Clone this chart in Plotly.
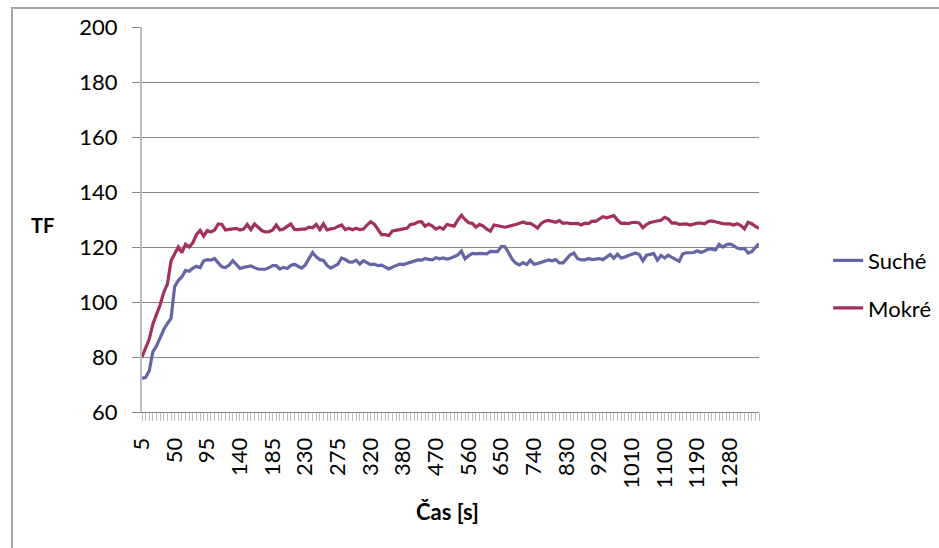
import plotly.graph_objects as go

# Categories: 5..350 step 5, then 360..1360 step 10
cas = [str(v) for v in list(range(5, 351, 5)) + list(range(360, 1361, 10))]

suche = [72.2, 72.6, 75, 82, 84, 87, 90, 92.2, 94, 105.6,
         107.8, 109.2, 111.5, 111.2, 112.3, 113, 112.5, 115, 115.4, 115.2,
         115.8, 114.2, 112.8, 112.5, 113.4, 115, 113.5, 112.2, 112.6, 113,
         113.1, 112.5, 112, 111.9, 111.9, 112.5, 113.2, 113.2, 112, 112.6,
         112.2, 113.3, 113.7, 113, 112.3, 113.5, 115.5, 118, 116.4, 115.4,
         115.1, 113.3, 112.3, 112.9, 113.8, 116, 115.5, 114.6, 114.5, 115.2,
         113.8, 115, 114.2, 113.6, 113.8, 113.2, 113.4, 112.7, 112, 112.7,
         113.1, 113.8, 113.6, 114.1, 114.6, 115.1, 115.3, 115.2, 115.8, 115.5,
         115.3, 116.1, 115.7, 116, 115.6, 115.9, 116.5, 117.1, 118.5, 115.7,
         116.8, 117.7, 117.5, 117.7, 117.6, 117.5, 118.4, 118.4, 118.3, 120.2,
         120.1, 118, 115.5, 114.1, 113.5, 114.3, 113.6, 115.2, 113.7, 114,
         114.5, 115, 115.3, 115, 115.4, 114.2, 114.2, 115.7, 117.2, 117.8,
         115.8, 115.3, 115.3, 115.8, 115.4, 115.6, 115.8, 115.4, 116.5, 117.3,
         115.9, 117.4, 116, 116.3, 116.9, 117.5, 117.8, 117.3, 115, 117,
         117.4, 117.6, 115.2, 116.9, 116, 117, 116.2, 115.4, 114.8, 117.5,
         117.9, 117.9, 118, 118.6, 118, 118.5, 119.2, 119.2, 118.9, 121,
         120, 120.8, 121.1, 120.5, 119.6, 119.3, 119.5, 117.8, 118.3, 119.8,
         121.2]

mokre = [80, 83.5, 86.5, 92, 95.5, 99, 103.5, 106.5, 115, 117.5,
         120, 118, 121, 120, 121.5, 124.5, 126, 124, 126, 125.5,
         126.2, 128.4, 128.2, 126.2, 126.5, 126.8, 126.8, 126.2, 126.5, 128.2,
         126.3, 128.4, 127, 126, 125.5, 125.6, 126.2, 128, 126.2, 126.5,
         127.5, 128.4, 126.4, 126.3, 126.5, 126.5, 127.2, 127, 128.2, 126.3,
         128.4, 126.2, 126.6, 126.8, 127.5, 128, 126.3, 126.8, 126.3, 126.8,
         126.3, 126.5, 128, 129.2, 128.3, 126.5, 124.5, 124.5, 124.2, 125.8,
         126.2, 126.3, 126.6, 126.8, 128.2, 128.4, 129.1, 129.2, 127.6, 128.3,
         127.6, 126.5, 127.2, 126.5, 128.2, 128, 127.6, 129.8, 131.5, 130,
         128.8, 128.6, 127.2, 128.2, 127.6, 126.5, 125.8, 128, 127.8, 127.4,
         127.2, 127.5, 128, 128.2, 128.6, 129.1, 128.6, 128.6, 127.8, 126.9,
         128.6, 129.4, 129.7, 129.2, 129, 129.6, 128.6, 128.8, 128.5, 128.5,
         128.6, 128, 128.7, 128.5, 129.4, 129.3, 130, 131, 130.6, 131,
         131.4, 129.8, 128.6, 128.7, 128.5, 128.9, 129, 128.7, 127, 128.2,
         128.9, 129.2, 129.5, 129.7, 130.8, 130.2, 128.7, 128.8, 128.2, 128.2,
         128.4, 128, 128.4, 128.7, 128.7, 128.4, 129.3, 129.5, 129.2, 128.7,
         128.5, 128.4, 128.4, 128, 128.5, 127.8, 126.6, 129, 128.5, 127.5,
         126.8]

y_ticks = [60, 80, 100, 120, 140, 160, 180, 200]

FONT = "Lato"
W, H = 939, 548
L, R, T, B = 142, 180, 27, 136

tick_text = [c if i % 9 == 0 else "" for i, c in enumerate(cas)]

fig = go.Figure()
fig.add_trace(go.Scatter(x=cas, y=suche, mode="lines", name="Suché",
                         line=dict(color="#6465A5", width=3.2), legendgroup="a"))
fig.add_trace(go.Scatter(x=cas, y=mokre, mode="lines", name="Mokré",
                         line=dict(color="#A2305F", width=3.2), legendgroup="b"))

fig.update_layout(
    width=W, height=H,
    margin=dict(l=L, r=R, t=T, b=B, autoexpand=False),
    paper_bgcolor="white", plot_bgcolor="white",
    font=dict(family=FONT, size=22, color="black"),
    showlegend=True,
    legend=dict(x=1.112, xanchor="left", y=0.331, yanchor="middle",
                font=dict(size=22), tracegroupgap=16, bgcolor="rgba(0,0,0,0)"),
    xaxis=dict(type="category", range=[0, len(cas) - 1],
               tickmode="array", tickvals=cas, ticktext=tick_text,
               tickangle=-90, ticks="outside", ticklen=8, tickwidth=1,
               tickcolor="#BDBDBD", showgrid=False, zeroline=False,
               showline=True, linecolor="#868686", linewidth=1,
               tickfont=dict(size=22), ticklabelstandoff=8),
    yaxis=dict(range=[60, 200], tickmode="array", tickvals=y_ticks,
               ticks="outside", ticklen=8, tickcolor="#868686",
               showgrid=True, gridcolor="#868686", gridwidth=1,
               zeroline=False, showline=True, linecolor="#BDBDBD", linewidth=2,
               tickfont=dict(size=22), ticklabelstandoff=10),
)

# outer chart-area border
pw = W - L - R
ph = H - T - B
fig.add_shape(type="rect", xref="paper", yref="paper",
              x0=(12 - L) / pw, x1=(W + 20 - L) / pw,
              y0=-(H + 20 - (H - B)) / ph, y1=((H - B) - 8) / ph,
              line=dict(color="#A6A6A6", width=2), fillcolor="rgba(0,0,0,0)", layer="below")

fig.add_annotation(text="<b>TF</b>", xref="paper", yref="paper",
                   x=(29 - L) / pw, y=((H - B) - 225) / ph,
                   showarrow=False, font=dict(size=20))
fig.add_annotation(text="<b>Čas [s]</b>", xref="paper", yref="paper",
                   x=(447 - L) / pw, y=((H - B) - 527) / ph,
                   showarrow=False, font=dict(size=22))

fig.write_html("out.html")
